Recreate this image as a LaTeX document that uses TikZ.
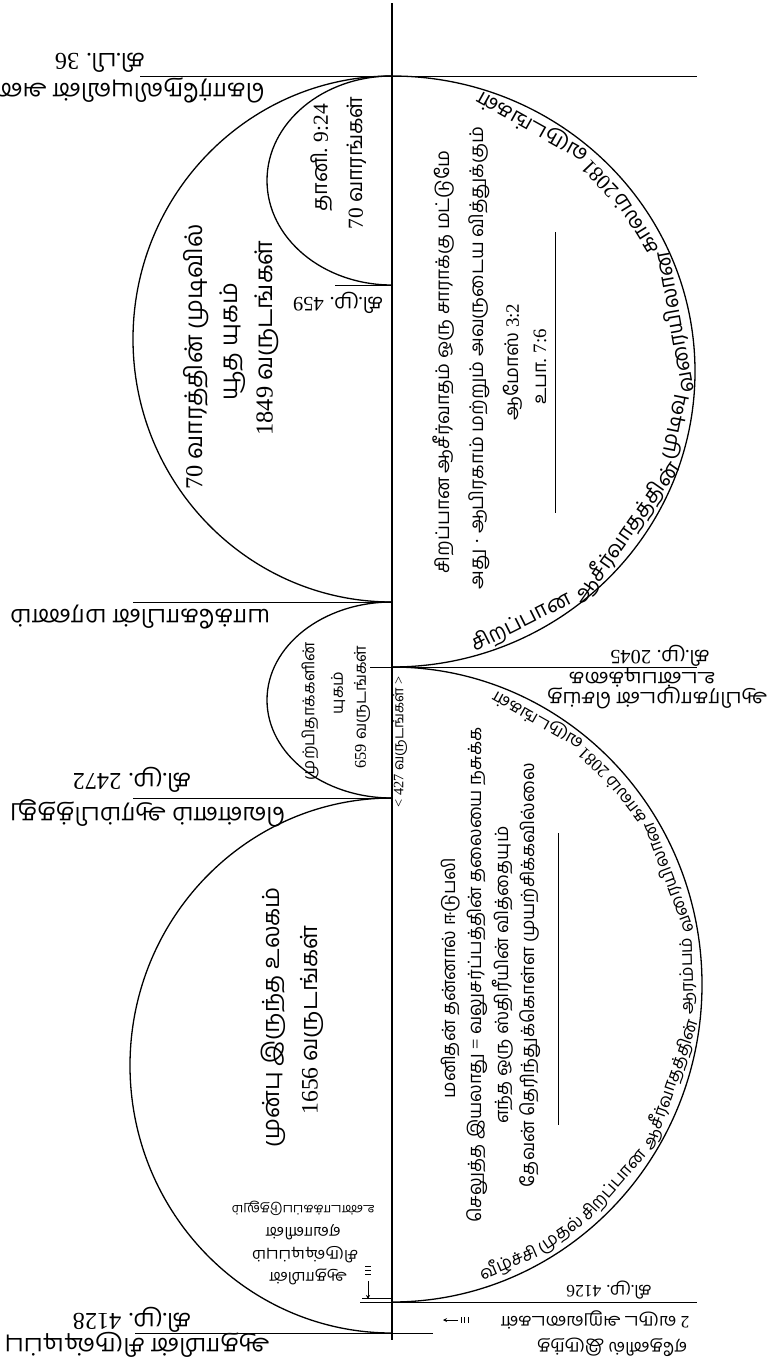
\documentclass[tikz,border=0pt]{standalone}
\usepackage{fontspec}
\setmainfont[Script=Tamil]{Hind Madurai}
\newfontfamily\serf{Liberation Serif}
\newcommand\nm[1]{{\serf #1}}
\usetikzlibrary{arrows.meta}
\newlength\wl
\newdimen\wsum
\newcount\wcnt
\newcommand\fz[1]{\fontsize{#1}{#1}\selectfont}
\newcommand\calcsize[3]{\settowidth\wl{\fz{10}#3}\pgfmathsetmacro#1{10*#2/\wl}}
\def\gapw{4}
% pre-compute font size and word angles along an arc: name, rx, ry, start, end, words-macro
\newcommand\prepwords[6]{%
  \global\wsum=0pt \global\wcnt=0
  \foreach \w in #6{\settowidth\wl{\fz{10}\w}\global\advance\wsum by\wl \global\advance\wcnt by 1 }%
  \pgfmathsetmacro\rr{((#2)+(#3))/2}%
  \pgfmathsetmacro\arclen{((#5)-(#4))/57.29578*\rr}%
  \pgfmathsetmacro\asz{10*(\arclen-(\the\wcnt-1)*\gapw)/\wsum}%
  \expandafter\xdef\csname #1size\endcsname{\asz}%
  \global\wsum=0pt
  \foreach \w in #6{\settowidth\wl{\fz{\asz}\w}\global\advance\wsum by\wl}%
  \pgfmathsetmacro\gapdeg{((#5)-(#4)-\wsum/\rr*57.29578)/(\the\wcnt-1)}%
  \xdef\curang{#4}%
  \foreach \w [count=\i] in #6{%
    \settowidth\wl{\fz{\asz}\w}%
    \pgfmathsetmacro\da{\wl/\rr*57.29578}%
    \pgfmathsetmacro\md{\curang+\da/2}%
    \expandafter\xdef\csname #1ang\i\endcsname{\md}%
    \pgfmathsetmacro\nx{\curang+\da+\gapdeg}%
    \xdef\curang{\nx}%
  }}
% draw them: name, cx, cy, rx, ry, words-macro
\newcommand\drawwords[6]{%
  \edef\thissz{\csname #1size\endcsname}%
  \foreach \w [count=\i] in #6{%
    \edef\md{\csname #1ang\i\endcsname}%
    \node[arcw, font=\fz{\thissz}, rotate=\md+90] (#1\i) at ({#2+(#4)*cos(\md)},{#3+(#5)*sin(\md)}) {\w};
  }}
\def\wordsU{சிறப்பான, ஆசீர்வாதத்தின், முடிவு, வரையிலான, காலம், \nm{2081}, வருடங்கள்}
\def\wordsL{வீழ்ச்சி, முதல், சிறப்பான, ஆசீர்வாதத்தின், ஆரம்பம், வரையிலான, காலம், \nm{2081}, வருடங்கள்}
\begin{document}
\calcsize\szA{265}{\nm{70} வாரத்தின் முடிவில்}%
\calcsize\szB{133}{\nm{70} வாரங்கள்}%
\calcsize\szC{138}{முற்பிதாக்களின்}%
\calcsize\szD{260}{முன்பு இருந்த உலகம்}%
\calcsize\szE{423}{சிறப்பான ஆசீர்வாதம் ஒரு சாராக்கு மட்டுமே}%
\calcsize\szF{424}{தேவன் தெரிந்துக்கொள்ள முயற்சிக்கவில்லை}%
\calcsize\szG{260}{யாக்கோபின் மரணம்}%
\calcsize\szH{220}{ஆபிரகாமுடன் செய்த}%
\calcsize\szJ{106}{சிருஷ்டிப்பும்}%
\calcsize\szJJ{143}{உண்டாக்கப்படுதலும்}%
\calcsize\szK{131}{\nm{<} \nm{427} வருடங்கள் \nm{>}}%
\calcsize\szL{150}{ஏதேனில் இருந்த}%
\calcsize\szM{90}{கி.மு. \nm{459}}%
\prepwords{u}{294}{286.5}{-74}{73}{\wordsU}%
\prepwords{l}{301}{308.5}{-72.5}{70}{\wordsL}%
\begin{tikzpicture}[x=1pt,y=1pt,
  axis/.style={line width=1.8pt},
  tick/.style={line width=0.9pt},
  arcl/.style={line width=1.3pt},
  vtxt/.style={rotate=90, inner sep=0pt},
  utxt/.style={rotate=180, inner sep=0pt},
  arcw/.style={anchor=base, inner sep=0pt}]
\useasboundingbox (0,0) rectangle (769,-1363);
\fill[white] (0,0) rectangle (769,-1363);
% ---- axis and ticks
\coordinate (top) at (392,-3);
\coordinate (bot) at (392,-1340);
\draw[axis] (top) -- (bot);
\draw[tick] (140,-76) -- (697,-76);
\draw[tick] (335,-285) -- (392,-285);
\draw[tick] (133,-602) -- (392,-602);
\draw[tick] (370,-667) -- (697,-667);
\draw[tick] (133,-798) -- (392,-798);
\draw[tick] (360,-1302) -- (697,-1302);
\draw[tick] (362,-1298) -- (392,-1298);
\draw[tick] (135,-1333) -- (433,-1333);
% ---- semicircles
\draw[arcl] (392,-76) arc[start angle=90, end angle=270, x radius=259, y radius=263];
\draw[arcl] (392,-76) arc[start angle=90, end angle=270, x radius=125, y radius=104.5];
\draw[arcl] (392,-602) arc[start angle=90, end angle=270, x radius=125, y radius=98];
\draw[arcl] (392,-798) arc[start angle=90, end angle=270, x radius=262, y radius=267.5];
\draw[arcl] (392,-76) arc[start angle=90, end angle=-90, x radius=303, y radius=295.5];
\draw[arcl] (392,-667) arc[start angle=90, end angle=-90, x radius=310, y radius=317.5];
% ---- separators
\draw[tick] (555,-232) -- (555,-513);
\draw[tick] (558,-833) -- (558,-1125);
% ---- upper-left big
\node[vtxt, font=\fz{\szA}] (ulA) at (196,-357) {\nm{70} வாரத்தின் முடிவில்};
\node[vtxt, font=\fz{\szA}] (ulB) at (233,-342) {யூத யுகம்};
\node[vtxt, font=\fz{\szA}] (ulC) at (267,-338) {\nm{1849} வருடங்கள்};
% ---- upper-left small
\node[vtxt, font=\fz{\szB}] (usA) at (322,-158) {தானி. \nm{9:24}};
\node[vtxt, font=\fz{\szB}] (usB) at (357,-163) {\nm{70} வாரங்கள்};
% ---- middle small
\node[vtxt, font=\fz{\szC}] (msA) at (310,-711) {முற்பிதாக்களின்};
\node[vtxt, font=\fz{\szC}] (msB) at (338,-693) {யுகம்};
\node[vtxt, font=\fz{\szC}] (msC) at (362,-707) {\nm{659} வருடங்கள்};
\node[vtxt, font=\fz{\szK}] (yrs) at (400,-742) {\nm{<} \nm{427} வருடங்கள் \nm{>}};
% ---- lower-left big
\node[vtxt, font=\fz{\szD}] (llA) at (273,-1017) {முன்பு இருந்த உலகம்};
\node[vtxt, font=\fz{\szD}] (llB) at (312,-1020) {\nm{1656} வருடங்கள்};
% ---- lower-left small note
\node[utxt, font=\fz{\szJ}] (cA) at (308,-1277) {ஆதாமின்};
\node[utxt, font=\fz{\szJ}] (cB) at (305,-1255) {சிருஷ்டிப்பும்};
\node[utxt, font=\fz{\szJ}] (cC) at (303,-1232) {ஏவாளின்};
\node[utxt, font=\fz{\szJJ}] (cD) at (303,-1208) {உண்டாக்கப்படுதலும்};
% ---- upper-right inner
\node[vtxt, font=\fz{\szE}] (urA) at (444,-362) {சிறப்பான ஆசீர்வாதம் ஒரு சாராக்கு மட்டுமே};
\node[vtxt, font=\fz{\szE}] (urB) at (479,-358) {அது \nm{·} ஆபிரகாம் மற்றும் அவருடைய வித்துக்கும்};
\node[vtxt, font=\fz{\szE}] (urC) at (513,-362) {ஆமோஸ் \nm{3:2}};
\node[vtxt, font=\fz{\szE}] (urD) at (540,-367) {உபா. \nm{7:6}};
% ---- lower-right inner
\node[vtxt, font=\fz{\szF}] (lrA) at (451,-978) {மனிதன் தன்னால் ஈடுபலி};
\node[vtxt, font=\fz{\szF}] (lrB) at (477,-975) {செலுத்த இயலாது \nm{=} வலுசர்ப்பத்தின் தலையை நசுக்க};
\node[vtxt, font=\fz{\szF}] (lrC) at (503,-975) {எந்த ஒரு ஸ்திரீயின் வித்தையும்};
\node[vtxt, font=\fz{\szF}] (lrD) at (530,-975) {தேவன் தெரிந்துக்கொள்ள முயற்சிக்கவில்லை};
% ---- left labels
\node[utxt, font=\fz{\szG}] (d36) at (100,-63) {கி.பி. \nm{36}};
\node[utxt, font=\fz{\szG}, anchor=west] (corn) at (265,-90) {கொர்நேலியுவின் அழைப்பு};
\node[utxt, font=\fz{\szM}] (d459) at (338,-303) {கி.மு. \nm{459}};
\node[utxt, font=\fz{\szG}] (jac) at (140,-617) {யாக்கோபின் மரணம்};
\node[utxt, font=\fz{\szG}] (d2472) at (132,-780) {கி.மு. \nm{2472}};
\node[utxt, font=\fz{\szG}] (flood) at (148,-813) {வெள்ளம் ஆரம்பித்தது};
\node[utxt, font=\fz{\szG}] (d4128) at (132,-1320) {கி.மு. \nm{4128}};
\node[utxt, font=\fz{\szG}] (adam) at (137,-1345) {ஆதாமின் சிருஷ்டிப்பு};
% ---- right labels
\node[utxt, font=\fz{\szH}] (d2045) at (660,-656) {கி.மு. \nm{2045}};
\node[utxt, font=\fz{\szH}] (cov2) at (642,-678) {உடன்படிக்கை};
\node[utxt, font=\fz{\szH}] (cov1) at (657,-698) {ஆபிரகாமுடன் செய்த};
\node[utxt, font=\fz{\szL}] (d4126) at (609,-1290) {கி.மு. \nm{4126}};
\node[utxt, font=\fz{\szL}] (eden2) at (595,-1320) {\nm{2} வருட அறுவடைகள்};
\node[utxt, font=\fz{\szL}] (eden1) at (612,-1347) {ஏதேனில் இருந்த};
% ---- small 2-year arrows
\coordinate (la1) at (368,-1281);
\coordinate (la2) at (368,-1299);
\draw[line width=0.7pt, -{Stealth[length=4pt,width=4pt]}] (la1) -- (la2);
\foreach \yy in {1266,1270,1274} \draw[line width=0.6pt] (365,-\yy) -- (371,-\yy);
\coordinate (ra1) at (458,-1320);
\coordinate (ra2) at (443,-1320);
\draw[line width=0.7pt, -{Stealth[length=4pt,width=4pt]}] (ra1) -- (ra2);
\foreach \xx in {461,464.5,468} \draw[line width=0.6pt] (\xx,-1317) -- (\xx,-1323);
% ---- arc texts
\drawwords{u}{392}{-371.5}{294}{286.5}{\wordsU}
\drawwords{l}{392}{-984.5}{301}{308.5}{\wordsL}
\end{tikzpicture}
\end{document}
